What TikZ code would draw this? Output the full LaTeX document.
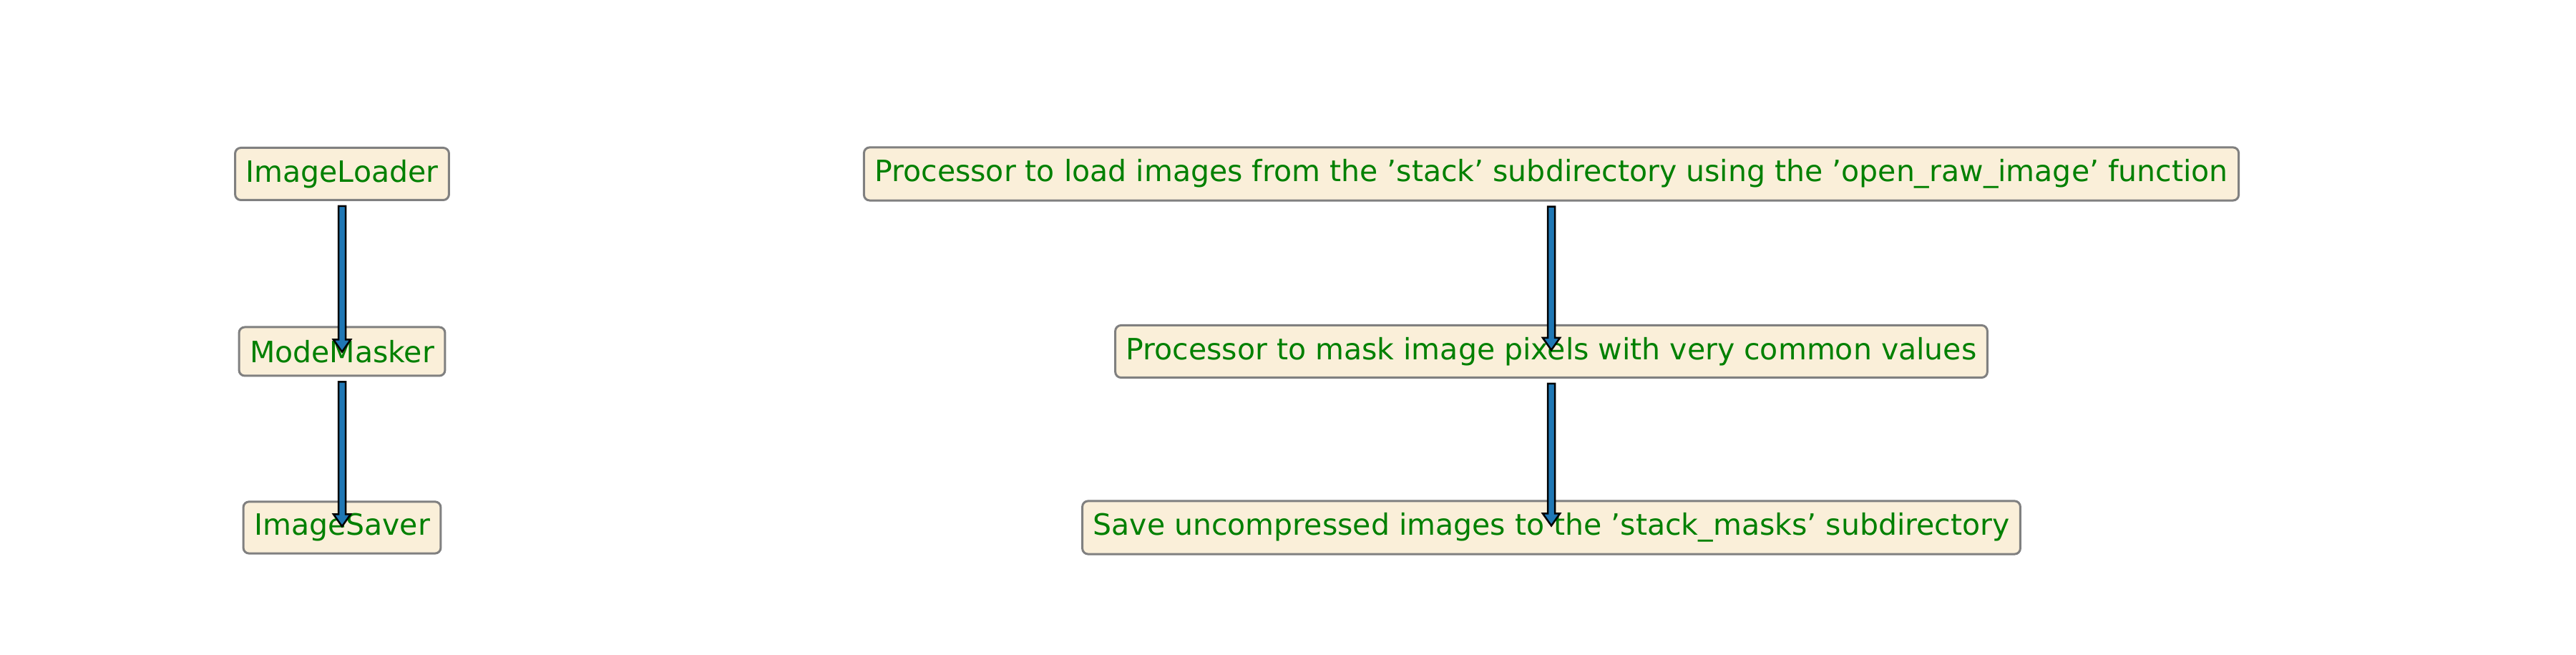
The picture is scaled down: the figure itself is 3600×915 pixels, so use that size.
\documentclass[tikz,border=0pt]{standalone}
\usepackage{fontspec}
\setmainfont{DejaVu Sans}
\usetikzlibrary{calc}
\definecolor{boxfill}{RGB}{250,239,217}
\definecolor{boxline}{RGB}{128,128,128}
\definecolor{txtgreen}{RGB}{0,128,0}
\definecolor{tabblue}{RGB}{31,119,180}
\newcommand{\blockarrow}[2]{%
  \filldraw[fill=tabblue,draw=black,line width=0.5pt,line join=miter]
    ($(#1.south)+(-5,-7)$) -- ($(#1.south)+(5,-7)$) -- ($(#2.north)+(5,-19)$)
    -- ($(#2.north)+(12,-19)$) -- ($(#2.north)+(0,-36)$) -- ($(#2.north)+(-12,-19)$)
    -- ($(#2.north)+(-5,-19)$) -- cycle;}
\begin{document}
\begin{tikzpicture}[x=0.2pt,y=0.2pt,
    procbox/.style={draw=boxline,fill=boxfill,line width=0.6pt,rounded corners=1.6pt,
      text=txtgreen,font=\fontsize{8.2}{10}\selectfont,inner xsep=3pt,
      minimum height=13.6pt}]
  \useasboundingbox (0,0) rectangle (3600,915);
  \begin{scope}[every node/.style={procbox}]
    \node (load) at (478,672) {ImageLoader};
    \node (mask) at (478,424) {ModeMasker};
    \node (save) at (478,178) {ImageSaver};
    \node (loadd) at (2168,672) {Processor to load images from the 'stack' subdirectory using the 'open\_raw\_image' function};
    \node (maskd) at (2168,424) {Processor to mask image pixels with very common values};
    \node (saved) at (2168,178) {Save uncompressed images to the 'stack\_masks' subdirectory};
  \end{scope}
  \blockarrow{load}{mask}
  \blockarrow{mask}{save}
  \blockarrow{loadd}{maskd}
  \blockarrow{maskd}{saved}
\end{tikzpicture}
\end{document}
